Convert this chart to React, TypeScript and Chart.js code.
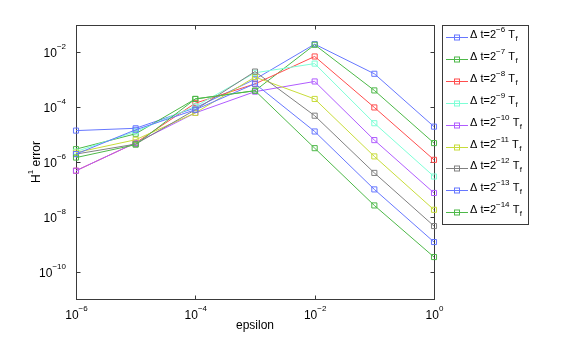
import React, { useEffect, useRef } from 'react';
import { Chart, registerables } from 'chart.js';

Chart.register(...registerables);

// epsilon values (x axis)
const epsilonValues = [1e-6, 1e-5, 1e-4, 1e-3, 1e-2, 1e-1, 1];

// time-step exponents: Δt = 2^e T_f
const dtExponents = [-6, -7, -8, -9, -10, -11, -12, -13, -14];

// H1 error for each time step
const errDt6 = [1.4e-5, 1.7e-5, 9.5e-5, 1.05e-3, 2.0e-2, 1.66e-3, 1.95e-5];
const errDt7 = [2.95e-6, 1.07e-5, 2.0e-4, 4.0e-4, 1.9e-2, 4.1e-4, 4.9e-6];
const errDt8 = [4.8e-7, 5.0e-6, 1.4e-4, 7.1e-4, 7.1e-3, 9.8e-5, 1.2e-6];
const errDt9 = [2.4e-6, 1.3e-5, 1.07e-4, 1.8e-3, 3.9e-3, 2.6e-5, 2.95e-7];
const errDt10 = [4.8e-7, 5.0e-6, 6.2e-5, 3.7e-4, 8.7e-4, 6.3e-6, 7.4e-8];
const errDt11 = [2.2e-6, 6.5e-6, 6.2e-5, 1.26e-3, 2.0e-4, 1.6e-6, 1.8e-8];
const errDt12 = [1.95e-6, 4.5e-6, 8.1e-5, 2.0e-3, 4.9e-5, 4.0e-7, 4.6e-9];
const errDt13 = [1.95e-6, 1.5e-5, 8.1e-5, 7.2e-4, 1.3e-5, 1.0e-7, 1.2e-9];
const errDt14 = [1.45e-6, 4.3e-6, 2.0e-4, 4.0e-4, 3.2e-6, 2.6e-8, 3.4e-10];

const seriesErrors = [errDt6, errDt7, errDt8, errDt9, errDt10, errDt11, errDt12, errDt13, errDt14];

const seriesColors = ['#6677ff', '#4db848', '#ff4d4d', '#7dffd6', '#b05cff', '#c8dc3a', '#808080', '#6677ff', '#4db848'];

// tick values and their labels as (base, exponent) pairs: 10^exp
const xTickValues = [1e-6, 1e-4, 1e-2, 1];
const xTickExponents = ['−6', '−4', '−2', '0'];
const yTickValues = [1e-10, 1e-8, 1e-6, 1e-4, 1e-2];
const yTickExponents = ['−10', '−8', '−6', '−4', '−2'];

const xTitle = 'epsilon';
const yTitleMain = 'H';
const yTitleSup = '1';
const yTitleRest = ' error';

const FONT = '"Liberation Sans", Arial, Helvetica, sans-serif';

function drawPower(ctx: CanvasRenderingContext2D, exp: string, x: number, baseline: number, align: 'center' | 'right') {
  ctx.font = `12px ${FONT}`;
  const wBase = ctx.measureText('10').width;
  ctx.font = `8px ${FONT}`;
  const wExp = ctx.measureText(exp).width;
  const total = wBase + wExp;
  const start = align === 'center' ? x - total / 2 : x - total;
  ctx.textAlign = 'left';
  ctx.textBaseline = 'alphabetic';
  ctx.font = `12px ${FONT}`;
  ctx.fillText('10', start, baseline);
  ctx.font = `8px ${FONT}`;
  ctx.fillText(exp, start + wBase, baseline - 8);
}

const framePlugin = {
  id: 'frameAndTicks',
  beforeDatasetsDraw(chart: any) {
    const { ctx, chartArea: a, scales } = chart;
    ctx.save();
    ctx.strokeStyle = '#3a3a3a';
    ctx.lineWidth = 1;
    const L = Math.round(a.left) + 0.5;
    const R = Math.round(a.right) + 0.5;
    const T = Math.round(a.top) + 0.5;
    const B = Math.round(a.bottom) + 0.5;
    ctx.strokeRect(L, T, R - L, B - T);
    const tl = 4;
    ctx.beginPath();
    for (const v of xTickValues) {
      const x = Math.round(scales.x.getPixelForValue(v)) + 0.5;
      ctx.moveTo(x, B); ctx.lineTo(x, B - tl);
      ctx.moveTo(x, T); ctx.lineTo(x, T + tl);
    }
    for (const v of yTickValues) {
      const y = Math.round(scales.y.getPixelForValue(v)) + 0.5;
      ctx.moveTo(L, y); ctx.lineTo(L + tl, y);
      ctx.moveTo(R, y); ctx.lineTo(R - tl, y);
    }
    ctx.stroke();

    // tick labels
    ctx.fillStyle = '#000';
    xTickValues.forEach((v, i) => {
      const x = scales.x.getPixelForValue(v);
      drawPower(ctx, xTickExponents[i], x + 0.5, a.bottom + 19.5, 'center');
    });
    yTickValues.forEach((v, i) => {
      const y = scales.y.getPixelForValue(v);
      drawPower(ctx, yTickExponents[i], a.left - 10, y + 5, 'right');
    });

    // axis titles
    ctx.font = `12px ${FONT}`;
    ctx.textAlign = 'center';
    ctx.textBaseline = 'alphabetic';
    ctx.fillText(xTitle, (a.left + a.right) / 2, a.bottom + 30);

    ctx.save();
    ctx.translate(40, (a.top + a.bottom) / 2);
    ctx.rotate(-Math.PI / 2);
    ctx.font = `12px ${FONT}`;
    const w1 = ctx.measureText(yTitleMain).width;
    const w3 = ctx.measureText(yTitleRest).width;
    ctx.font = `8px ${FONT}`;
    const w2 = ctx.measureText(yTitleSup).width;
    let tx = -(w1 + w2 + w3) / 2;
    ctx.textAlign = 'left';
    ctx.font = `12px ${FONT}`;
    ctx.fillText(yTitleMain, tx, 0);
    tx += w1;
    ctx.font = `8px ${FONT}`;
    ctx.fillText(yTitleSup, tx, -7);
    tx += w2;
    ctx.font = `12px ${FONT}`;
    ctx.fillText(yTitleRest, tx, 0);
    ctx.restore();

    ctx.restore();
  },
  afterDraw(chart: any) {
    const { ctx, chartArea: a } = chart;
    const left = Math.round(a.right) + 8;
    const top = Math.round(a.top);
    const width = 86;
    const height = 199;
    const step = 21.85;
    ctx.save();
    ctx.fillStyle = '#ffffff';
    ctx.fillRect(left, top, width, height);
    ctx.strokeStyle = '#3a3a3a';
    ctx.lineWidth = 1;
    ctx.strokeRect(left + 0.5, top + 0.5, width, height);
    chart.data.datasets.forEach((ds: any, i: number) => {
      const y = Math.round(top + 12.3 + i * step) + 0.5;
      ctx.strokeStyle = ds.borderColor;
      ctx.beginPath();
      ctx.moveTo(left + 4, y);
      ctx.lineTo(left + 26, y);
      ctx.stroke();
      ctx.strokeRect(left + 12.5, y - 2.5, 5, 5);
      ctx.fillStyle = '#000';
      ctx.textBaseline = 'alphabetic';
      ctx.textAlign = 'left';
      let x = left + 28;
      ctx.font = `11px ${FONT}`;
      const base = 'Δ t=2';
      ctx.fillText(base, x, y);
      x += ctx.measureText(base).width;
      ctx.font = `8px ${FONT}`;
      const sup = '−' + String(Math.abs(dtExponents[i]));
      ctx.fillText(sup, x, y - 6);
      x += ctx.measureText(sup).width;
      ctx.font = `11px ${FONT}`;
      const t = ' T';
      ctx.fillText(t, x, y);
      x += ctx.measureText(t).width;
      ctx.font = `8px ${FONT}`;
      ctx.fillText('f', x + 0.5, y + 3);
    });
    ctx.restore();
  },
};

export default function App() {
  const canvasRef = useRef<HTMLCanvasElement | null>(null);

  useEffect(() => {
    const canvas = canvasRef.current;
    if (!canvas) return;
    const datasets = seriesErrors.map((errs, i) => ({
      label: `Δ t=2^${dtExponents[i]} T_f`,
      data: epsilonValues.map((x, j) => ({ x, y: errs[j] })),
      borderColor: seriesColors[i],
      backgroundColor: 'rgba(0,0,0,0)',
      borderWidth: 1,
      pointStyle: 'rect',
      pointRadius: 3.6,
      pointBorderWidth: 1,
      pointBorderColor: seriesColors[i],
      pointBackgroundColor: 'rgba(255,255,255,0)',
      tension: 0,
      clip: false,
      order: seriesErrors.length - i,
    }));

    const chart = new Chart(canvas, {
      type: 'line',
      data: { datasets },
      options: {
        animation: false,
        responsive: false,
        devicePixelRatio: 1,
        layout: { padding: { left: 0, right: 152, top: 25, bottom: 0 } },
        plugins: {
          legend: { display: false },
          tooltip: { enabled: false },
          title: { display: false },
        },
        scales: {
          x: {
            type: 'logarithmic',
            min: 1e-6,
            max: 1,
            grid: { display: false, drawTicks: false },
            border: { display: false },
            afterBuildTicks: (s: any) => {
              s.ticks = xTickValues.map((v) => ({ value: v }));
            },
            afterFit: (s: any) => {
              s.height = 38;
            },
            ticks: { display: false },
            title: { display: false },
          },
          y: {
            type: 'logarithmic',
            min: 1e-11,
            max: 1e-1,
            grid: { display: false, drawTicks: false },
            border: { display: false },
            afterBuildTicks: (s: any) => {
              s.ticks = yTickValues.map((v) => ({ value: v }));
            },
            afterFit: (s: any) => {
              s.width = 76;
            },
            ticks: { display: false },
            title: { display: false },
          },
        },
      },
      plugins: [framePlugin],
    });
    return () => chart.destroy();
  }, []);

  return (
    <div style={{ position: 'absolute', left: 0, top: 0, width: 586, height: 337, background: '#fff' }}>
      <canvas ref={canvasRef} width={586} height={337} style={{ width: 586, height: 337, display: 'block' }} />
    </div>
  );
}
